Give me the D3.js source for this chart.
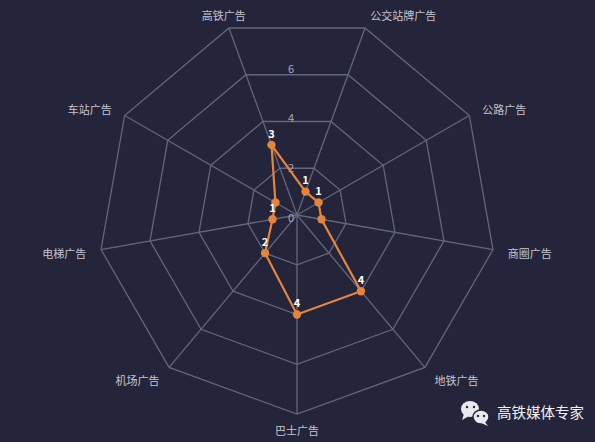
<!DOCTYPE html>
<html>
<head>
<meta charset="utf-8">
<script src="https://cdn.jsdelivr.net/npm/d3@7"></script>
<style>
  html, body { margin: 0; padding: 0; background: #24243a; }
  svg { display: block; font-family: "Noto Sans CJK SC", "Noto Sans", sans-serif; }
</style>
</head>
<body>
<div id="chart"></div>
<script>
// indicators, clockwise starting from the upper-left spoke
var categories = ["高铁广告", "公交站牌广告", "公路广告", "商圈广告", "地铁广告", "巴士广告", "机场广告", "电梯广告", "车站广告"];
var values = [3, 1, 1, 1, 4, 4, 2, 1, 1];
// value labels that can be seen in the picture (the others are hidden by overlap)
var showValue = [true, true, true, false, true, true, true, true, false];
var ticks = [0, 2, 4, 6];
var levels = [2, 4, 6, 8];
var maxValue = 8;

var width = 595, height = 442;
var cx = 297, cy = 215, R = 199;

var svg = d3.select("#chart").append("svg")
    .attr("width", width)
    .attr("height", height);

svg.append("rect").attr("width", width).attr("height", height).attr("fill", "#24243a");

var g = svg.append("g").attr("transform", "translate(" + cx + "," + cy + ")");

var n = categories.length;
// bottom spoke (巴士广告) points straight down
var angle = d3.scaleLinear().domain([0, n]).range([-20 * Math.PI / 180, (360 - 20) * Math.PI / 180]);
var r = d3.scaleLinear().domain([0, maxValue]).range([0, R]);

function pt(i, v) {
  var a = angle(i);
  return [r(v) * Math.sin(a), -r(v) * Math.cos(a)];
}

var gridColor = "#64667f";

// rings
levels.forEach(function(lv) {
  g.append("path")
    .attr("d", d3.line()(d3.range(n).map(function(i) { return pt(i, lv); })) + "Z")
    .attr("fill", "none")
    .attr("stroke", gridColor)
    .attr("stroke-width", 1.3);
});

// spokes
g.selectAll(".spoke")
  .data(categories)
  .enter().append("line")
    .attr("class", "spoke")
    .attr("x1", 0).attr("y1", 0)
    .attr("x2", function(d, i) { return pt(i, maxValue)[0]; })
    .attr("y2", function(d, i) { return pt(i, maxValue)[1]; })
    .attr("stroke", gridColor)
    .attr("stroke-width", 1.3);

// tick labels up the middle
g.selectAll(".tick")
  .data(ticks)
  .enter().append("text")
    .attr("class", "tick")
    .attr("x", -6)
    .attr("y", function(d) { return -r(d) + 3; })
    .attr("dy", "0.35em")
    .attr("text-anchor", "middle")
    .attr("fill", "#a9abbd")
    .attr("font-size", 11)
    .text(function(d) { return d; });

// category names
var anchors = ["middle", "start", "start", "start", "start", "middle", "end", "end", "end"];
g.selectAll(".name")
  .data(categories)
  .enter().append("text")
    .attr("class", "name")
    .attr("x", function(d, i) { return (R + 15) * Math.sin(angle(i)); })
    .attr("y", function(d, i) { return -(R + 15) * Math.cos(angle(i)) + 2; })
    .attr("dy", "0.35em")
    .attr("text-anchor", function(d, i) { return anchors[i]; })
    .attr("fill", "#c4c5d2")
    .attr("font-size", 11)
    .text(function(d) { return d; });

// data polygon
var orange = "#e5843d";
g.append("path")
  .attr("d", d3.line()(values.map(function(v, i) { return pt(i, v); })) + "Z")
  .attr("fill", "none")
  .attr("stroke", orange)
  .attr("stroke-width", 2.2);

g.selectAll(".dot")
  .data(values)
  .enter().append("circle")
    .attr("class", "dot")
    .attr("cx", function(d, i) { return pt(i, d)[0]; })
    .attr("cy", function(d, i) { return pt(i, d)[1]; })
    .attr("r", 4.2)
    .attr("fill", orange);

g.selectAll(".val")
  .data(values)
  .enter().append("text")
    .attr("class", "val")
    .attr("x", function(d, i) { return pt(i, d)[0]; })
    .attr("y", function(d, i) { return pt(i, d)[1] - 11; })
    .attr("dy", "0.35em")
    .attr("text-anchor", "middle")
    .attr("fill", "#ffffff")
    .attr("font-size", 11)
    .attr("font-weight", "bold")
    .style("display", function(d, i) { return showValue[i] ? null : "none"; })
    .text(function(d) { return d; });

// watermark
var wm = svg.append("g").attr("fill", "#e8e8ee");
wm.append("ellipse").attr("cx", 470).attr("cy", 409).attr("rx", 9).attr("ry", 8);
wm.append("path").attr("d", "M464,414 L462,420 L469,416 Z");
wm.append("ellipse").attr("cx", 481).attr("cy", 417).attr("rx", 8).attr("ry", 7).attr("stroke", "#24243a").attr("stroke-width", 1.5);
wm.append("path").attr("d", "M485,422 L488,426 L481,423 Z");
wm.selectAll(".eye")
  .data([[467, 407], [474, 407], [478, 416], [484, 416]])
  .enter().append("circle")
    .attr("cx", function(d) { return d[0]; })
    .attr("cy", function(d) { return d[1]; })
    .attr("r", 1.2)
    .attr("fill", "#24243a");
svg.append("text")
  .attr("x", 497).attr("y", 413)
  .attr("dy", "0.35em")
  .attr("fill", "#f2f2f5")
  .attr("font-size", 14.5)
  .text("高铁媒体专家");
</script>
</body>
</html>
